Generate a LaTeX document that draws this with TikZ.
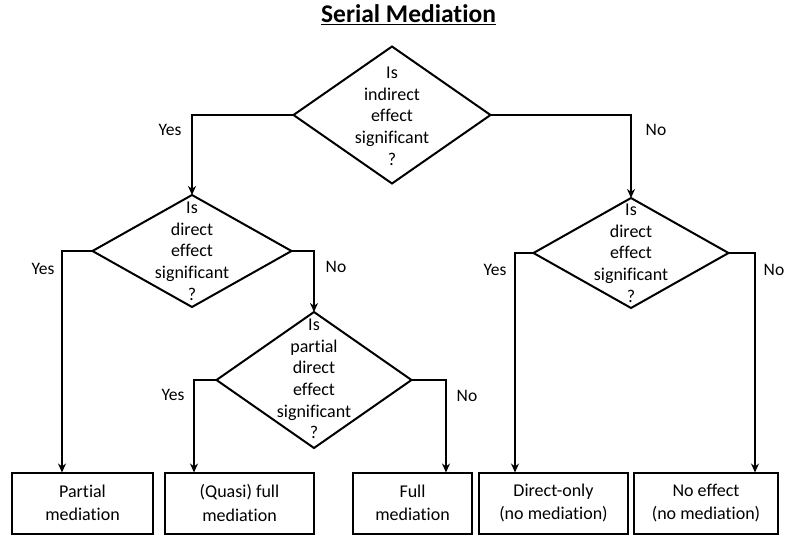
\documentclass[tikz,border=0pt]{standalone}
\usepackage{fontspec}
\setmainfont{Carlito}[Ligatures=NoCommon]
\usetikzlibrary{shapes.geometric,arrows.meta}
\begin{document}
\begin{tikzpicture}[x=1pt,y=-1pt,
  dia/.style={shape=diamond,draw,line width=2pt,inner sep=0pt,outer sep=0pt},
  txt/.style={align=center,inner sep=0pt,font=\fontsize{18}{21.7}\selectfont},
  box/.style={draw,line width=2pt,inner sep=0pt,outer sep=0pt,align=center,font=\fontsize{18}{23.5}\selectfont},
  lbl/.style={inner sep=0pt,font=\fontsize{17.5}{20}\selectfont},
  arr/.style={line width=2pt,-{Stealth[length=9pt,width=8pt]}}]
\useasboundingbox[fill=white] (0,0) rectangle (787,535);
% title
\node[anchor=base,inner sep=0pt,font=\fontsize{25.5}{28}\selectfont\bfseries] (title) at (408.5,23) {\underline{Serial Mediation}};
% diamonds
\node[dia,minimum width=197pt,minimum height=137pt] (d1) at (392,115) {};
\node[txt] (t1) at (392,116) {Is\\indirect\\effect\\significant\\?};
\node[dia,minimum width=199pt,minimum height=112pt] (d2) at (192,251) {};
\node[txt] (t2) at (192,251) {Is\\direct\\effect\\significant\\?};
\node[dia,minimum width=195pt,minimum height=136pt] (d3) at (314,380) {};
\node[txt] (t3) at (314,379) {Is\\partial\\direct\\effect\\significant\\?};
\node[dia,minimum width=195pt,minimum height=110pt] (d4) at (631,253) {};
\node[txt] (t4) at (631,253) {Is\\direct\\effect\\significant\\?};
% boxes
\node[box,minimum width=141pt,minimum height=61pt] (b1) at (82.5,503) {Partial\\mediation};
\node[box,minimum width=149pt,minimum height=61pt] (b2) at (239.5,503) {(Quasi) full\\mediation};
\node[box,minimum width=119pt,minimum height=61pt] (b3) at (412.5,503) {Full\\mediation};
\node[box,minimum width=149pt,minimum height=61pt] (b4) at (553.5,503) {Direct-only\\(no mediation)};
\node[box,minimum width=144pt,minimum height=61pt] (b5) at (706,503) {No effect\\(no mediation)};
% connectors
\draw[arr] (d1.west) -| (d2.north);
\draw[arr] (d1.east) -| (d4.north);
\coordinate (c1) at (62,251);
\draw[arr] (d2.west) -- (c1) -- (c1 |- b1.north);
\draw[arr] (d2.east) -| (d3.north);
\coordinate (c2) at (194,380);
\draw[arr] (d3.west) -- (c2) -- (c2 |- b2.north);
\coordinate (c3) at (446,380);
\draw[arr] (d3.east) -- (c3) -- (c3 |- b3.north);
\coordinate (c4) at (515,253);
\draw[arr] (d4.west) -- (c4) -- (c4 |- b4.north);
\coordinate (c5) at (755,253);
\draw[arr] (d4.east) -- (c5) -- (c5 |- b5.north);
% labels
\node[lbl] (y1) at (170,130) {Yes};
\node[lbl] (n1) at (656,130) {No};
\node[lbl] (y2) at (43,269) {Yes};
\node[lbl] (n2) at (336,267) {No};
\node[lbl] (y3) at (173,395) {Yes};
\node[lbl] (n3) at (467,396) {No};
\node[lbl] (y4) at (495,270) {Yes};
\node[lbl] (n4) at (774,270) {No};
\end{tikzpicture}
\end{document}
